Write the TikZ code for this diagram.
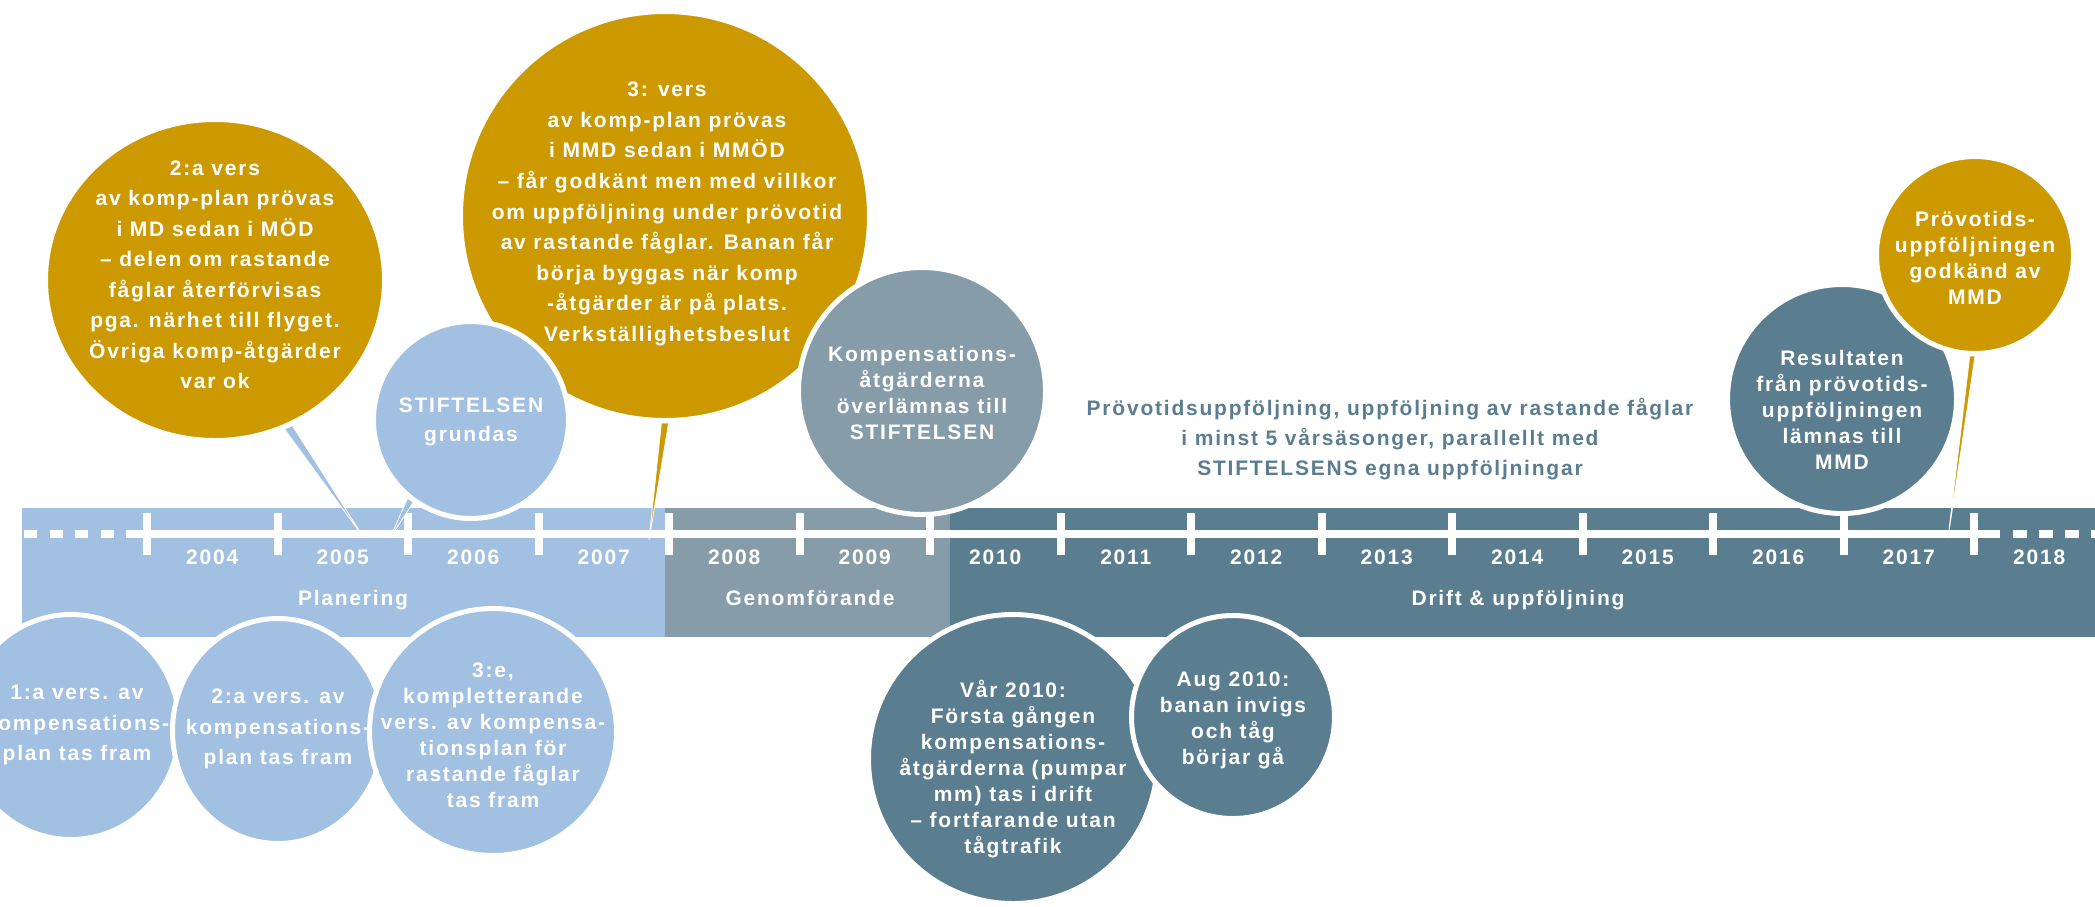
\documentclass[tikz,border=0pt]{standalone}
\usepackage{fontspec}
\setmainfont{Liberation Sans}[LetterSpace=8.5]
\usetikzlibrary{shapes.geometric}

\definecolor{planblue}{HTML}{A1C0E2}
\definecolor{genomgray}{HTML}{869DA9}
\definecolor{driftslate}{HTML}{5B7D90}
\definecolor{mmdgold}{HTML}{CC9900}
\newcommand\bubfont[1]{\fontsize{21}{#1}\selectfont\bfseries}

\pgfdeclarelayer{bubbles}
\pgfsetlayers{main,bubbles}

\begin{document}
\begin{tikzpicture}[x=1pt, y=-1pt,
        bubble/.style={ellipse, draw=white, line width=5pt, inner sep=0pt},
        bubtext/.style={text=white, align=center, inner sep=0pt, font=\bubfont{#1}},
        bubtext/.default=26,
        pointer/.style={draw=white, line width=0.8pt},
        phase/.style={text=white, font=\bubfont{26}, inner sep=0pt, anchor=base},
        tline/.style={white, line width=8pt}]
        \useasboundingbox (0,0) rectangle (2095,906);

        % bar with the three phases
        \fill[planblue] (22,508) rectangle (665,637);
        \fill[genomgray] (665,508) rectangle (950,637);
        \fill[driftslate] (950,508) rectangle (2095,637);

        \draw[tline, dash pattern=on 13pt off 12.5pt] (24,534) -- (126,534);
        \draw[tline] (126,534) -- (2000,534);
        \draw[tline, dash pattern=on 14pt off 12pt] (2013,534) -- (2100,534);
        \foreach \i in {0,...,14}
            \draw[tline] ({147+130.5*\i},513) -- ({147+130.5*\i},555);
        \foreach \i [evaluate=\i as \yr using int(2004+\i)] in {0,...,14}
            \node[phase] (yr\i) at ({212.25+130.5*\i},564) {\yr};

        \node[phase] (planering) at (353,605.5) {Planering};
        \node[phase] (genomf) at (810,605.5) {Genomförande};
        \node[phase] (drift) at (1518,605.5) {Drift \& uppföljning};

        \begin{pgfonlayer}{bubbles}
        \node[bubble, fill=mmdgold, minimum width=339, minimum height=321] (verA) at (215,280) {};
        \node[bubtext=30.5] (verA-txt) at (215,275) {2:a vers\\av komp-plan prövas\\i MD sedan i MÖD\\– delen om rastande\\fåglar återförvisas\\pga. närhet till flyget.\\Övriga komp-åtgärder\\var ok};
        \node[bubble, fill=mmdgold, minimum size=409] (verB) at (665,216) {};
        \node[bubtext=30.6] (verB-txt) at (667,214) {3: vers\\av komp-plan prövas\\i MMD sedan i MMÖD\\– får godkänt men med villkor\\om uppföljning under prövotid\\av rastande fåglar. Banan får\\börja byggas när komp\\-åtgärder är på plats.\\Verkställighetsbeslut};
        \node[bubble, fill=planblue, minimum width=195, minimum height=197] (stift) at (471,420) {};
        \node[bubtext=29] (stift-txt) at (471,422) {STIFTELSEN\\grundas};
        \node[bubble, fill=genomgray, minimum size=247] (komp) at (922,391) {};
        \node[bubtext=25.7] (komp-txt) at (922,393) {Kompensations-\\åtgärderna\\överlämnas till\\STIFTELSEN};
        \node[bubble, fill=driftslate, minimum size=229] (result) at (1842,399) {};
        \node[bubtext] (result-txt) at (1842,410) {Resultaten\\från prövotids-\\uppföljningen\\lämnas till\\MMD};
        \node[bubble, fill=mmdgold, minimum size=197] (godkand) at (1975,255) {};
        \node[bubtext] (godkand-txt) at (1975,258) {Prövotids-\\uppföljningen\\godkänd av\\MMD};

        \node[bubble, fill=planblue, minimum width=217, minimum height=225] (ver1) at (71,727) {};
        \node[bubtext=30.7] (ver1-txt) at (77,725) {1:a vers. av\\kompensations-\\plan tas fram};
        \node[bubble, fill=planblue, minimum width=211, minimum height=225] (ver2) at (278,731) {};
        \node[bubtext=30.7] (ver2-txt) at (278,729) {2:a vers. av\\kompensations-\\plan tas fram};
        \node[bubble, fill=planblue, minimum size=247] (ver3) at (493,732) {};
        \node[bubtext] (ver3-txt) at (493,735) {3:e,\\kompletterande\\vers. av kompensa-\\tionsplan för\\rastande fåglar\\tas fram};
        \node[bubble, fill=driftslate, minimum size=289] (var2010) at (1013,759) {};
        \node[bubtext] (var2010-txt) at (1013,769) {Vår 2010:\\Första gången\\kompensations-\\åtgärderna (pumpar\\mm) tas i drift\\– fortfarande utan\\tågtrafik};
        \node[bubble, fill=driftslate, minimum size=203] (aug2010) at (1233,717) {};
        \node[bubtext] (aug2010-txt) at (1233,720) {Aug 2010:\\banan invigs\\och tåg\\börjar gå};
        \end{pgfonlayer}

        \node[bubtext=30, text=driftslate] (prov) at (1390,439) {Prövotidsuppföljning, uppföljning av rastande fåglar\\i minst 5 vårsäsonger, parallellt med\\STIFTELSENS egna uppföljningar};

        % pointers down to the timeline
        \coordinate (tipA) at (364,538);
        \coordinate (tipStift) at (390,538);
        \coordinate (tipB) at (649,540);
        \coordinate (tipGodk) at (1948,538);
        \filldraw[pointer, fill=planblue] (verA.-62.5) -- (tipA) -- (verA.-65) -- cycle;
        \filldraw[pointer, fill=planblue] (stift.-125) -- (tipStift) -- (stift.-129) -- cycle;
        \filldraw[pointer, fill=mmdgold] (verB.-89.3) -- (tipB) -- (verB.-91.3) -- cycle;
        \filldraw[pointer, fill=mmdgold] (godkand.-90.5) -- (tipGodk) -- (godkand.-93) -- cycle;
    \end{tikzpicture}
\end{document}
